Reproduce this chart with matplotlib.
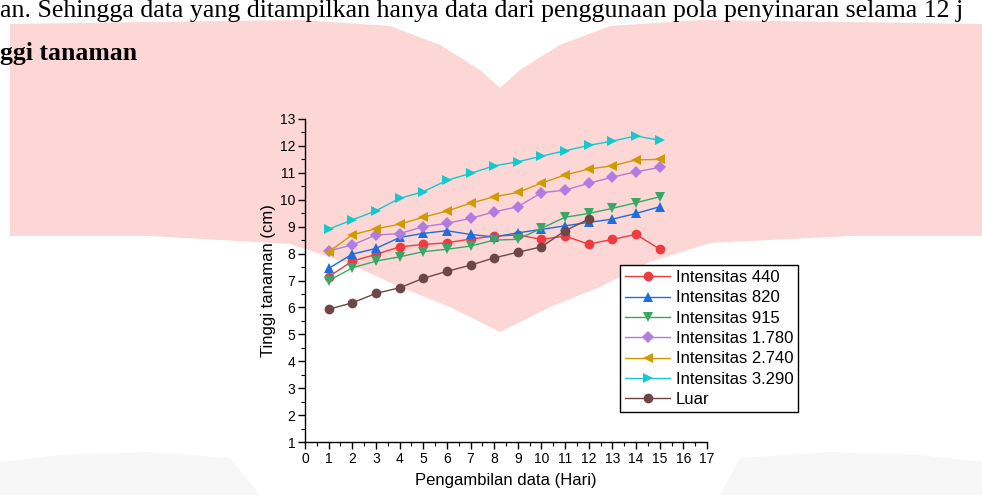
import matplotlib
matplotlib.use("Agg")
import matplotlib.pyplot as plt
from matplotlib.patches import Polygon
import numpy as np

# ---- data ----
days = list(range(1, 16))
days_luar = list(range(1, 13))
int_440 = [7.14, 7.72, 7.97, 8.25, 8.34, 8.40, 8.54, 8.65, 8.69, 8.53, 8.65, 8.35, 8.53, 8.71, 8.17]
int_820 = [7.45, 7.98, 8.19, 8.60, 8.75, 8.85, 8.71, 8.62, 8.77, 8.90, 9.03, 9.16, 9.28, 9.49, 9.74]
int_915 = [6.99, 7.47, 7.72, 7.88, 8.07, 8.16, 8.28, 8.50, 8.53, 8.94, 9.35, 9.49, 9.68, 9.89, 10.11]
int_1780 = [8.10, 8.32, 8.69, 8.74, 9.00, 9.12, 9.31, 9.55, 9.74, 10.26, 10.36, 10.61, 10.84, 11.04, 11.20]
int_2740 = [8.06, 8.70, 8.92, 9.09, 9.35, 9.58, 9.87, 10.11, 10.27, 10.62, 10.92, 11.14, 11.26, 11.48, 11.50]
int_3290 = [8.91, 9.25, 9.59, 10.05, 10.30, 10.72, 10.98, 11.26, 11.41, 11.62, 11.82, 12.02, 12.18, 12.37, 12.21]
luar = [5.93, 6.17, 6.52, 6.73, 7.08, 7.34, 7.57, 7.84, 8.05, 8.25, 8.85, 9.28]

labels = ["Intensitas 440", "Intensitas 820", "Intensitas 915", "Intensitas 1.780",
          "Intensitas 2.740", "Intensitas 3.290", "Luar"]
x_ticks = list(range(0, 18))
y_ticks = list(range(1, 14))

W, H = 982, 495
fig = plt.figure(figsize=(W / 100, H / 100), dpi=100)
fig.patch.set_facecolor("white")

def px(x, y):
    return (x / W, 1 - y / H)

# pink watermark background (decorative)
top = [(10, 24), (150, 22), (300, 20), (390, 26), (440, 45), (480, 70), (500, 88),
       (520, 70), (560, 45), (610, 26), (700, 20), (850, 22), (982, 24)]
bottom = [(982, 236), (850, 236), (710, 243), (650, 262), (600, 287), (550, 307), (500, 332),
          (450, 307), (400, 287), (350, 264), (290, 244), (150, 236), (10, 236)]
pts = [px(*p) for p in top + bottom]
fig.patches.append(Polygon(pts, closed=True, transform=fig.transFigure,
                           facecolor="#FDD6D6", edgecolor="none", zorder=-5))
# faint grey shapes at the bottom of the page
gl = [(0, 462), (60, 455), (150, 452), (230, 458), (260, 495), (0, 495)]
gr = [(720, 495), (740, 458), (830, 452), (920, 455), (982, 462), (982, 495)]
for g in (gl, gr):
    fig.patches.append(Polygon([px(*p) for p in g], closed=True, transform=fig.transFigure,
                               facecolor="#F7F7F7", edgecolor="none", zorder=-5))

# document text around the figure
fig.text(0, 1 - 17 / H, "an. Sehingga data yang ditampilkan hanya data dari penggunaan pola penyinaran selama 12 j",
         family="Liberation Serif", fontsize=18.6, va="baseline", ha="left", color="black",
         zorder=2)
fig.text(0, 1 - 60 / H, "ggi tanaman", family="Liberation Serif", fontsize=18.5,
         fontweight="bold", va="baseline", ha="left", color="black", zorder=2)

ax = fig.add_axes([305 / W, 1 - 442 / H, 402 / W, 323 / H])
ax.set_facecolor("none")
ax.set_zorder(1)

styles = [
    (days, int_440, "#EE3B3F", "o"),
    (days, int_820, "#1E6FDC", "^"),
    (days, int_915, "#38A867", "v"),
    (days, int_1780, "#B27BE0", "D"),
    (days, int_2740, "#D09B00", "<"),
    (days, int_3290, "#16C8CC", ">"),
    (days_luar, luar, "#6E4646", "o"),
]
for (xs, ys, c, m), lab in zip(styles, labels):
    ms = 7 if m in "o^v<>" else 6
    ax.plot(xs, ys, color=c, marker=m, markersize=ms, linewidth=1.0,
            markeredgewidth=0, label=lab)

ax.set_xlim(0, 17)
ax.set_ylim(1, 13)
ax.set_xticks(x_ticks)
ax.set_yticks(y_ticks)
ax.set_xticks(np.arange(0.5, 17, 1.0), minor=True)
ax.set_yticks(np.arange(1.5, 13, 1.0), minor=True)
for s in ["top", "right"]:
    ax.spines[s].set_visible(False)
for s in ["left", "bottom"]:
    ax.spines[s].set_linewidth(1.0)
ax.tick_params(which="major", direction="out", length=5, width=1.0, labelsize=10,
               pad=2)
ax.tick_params(which="minor", direction="out", length=3, width=0.8)
for t in ax.get_xticklabels() + ax.get_yticklabels():
    t.set_family("Liberation Sans")

ax.set_xlabel("Pengambilan data (Hari)", family="Liberation Sans", fontsize=12, labelpad=5)
ax.set_ylabel("Tinggi tanaman (cm)", family="Liberation Sans", fontsize=12, labelpad=3)

leg = ax.legend(loc="upper left", bbox_to_anchor=((620 - 305) / 402, (442 - 265) / 323),
                borderaxespad=0, frameon=True, fancybox=False, framealpha=1,
                edgecolor="black", prop={"family": "Liberation Sans", "size": 12},
                handlelength=2.7, handletextpad=0.35, labelspacing=0.32,
                borderpad=0.3, markerscale=1.0)
leg.get_frame().set_linewidth(1.0)

fig.savefig("out.png", dpi=100)
